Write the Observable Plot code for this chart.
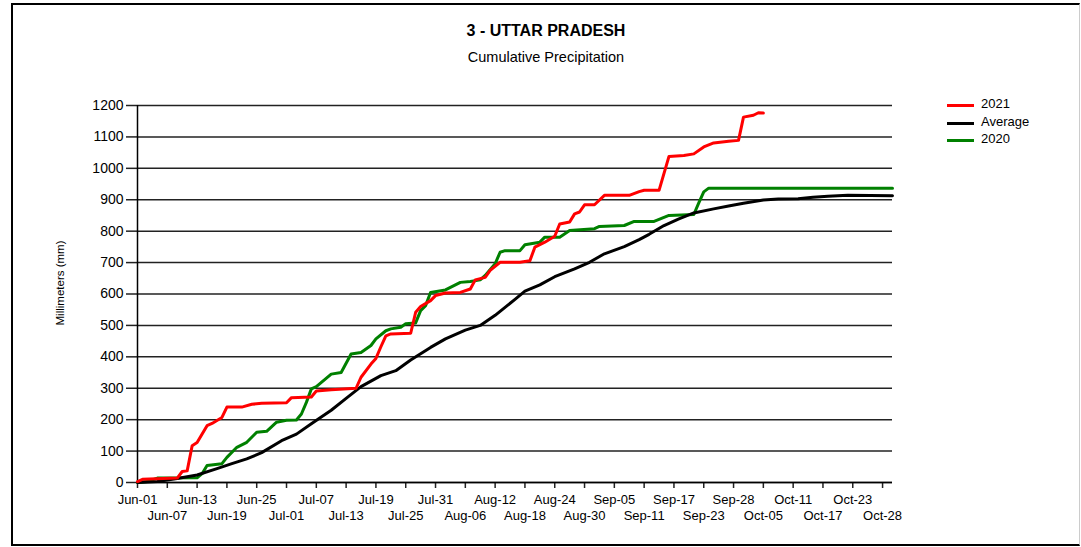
<!DOCTYPE html>
<html>
<head>
<meta charset="utf-8">
<script src="https://cdn.jsdelivr.net/npm/d3@7"></script>
<script src="https://cdn.jsdelivr.net/npm/@observablehq/plot@0.6"></script>
<style>
  body { margin: 0; background: #fff; }
  #wrap { position: relative; width: 1081px; height: 547px; overflow: hidden; font-family: "Liberation Sans", Arial, sans-serif; color: #000; }
  #frame { position: absolute; left: 11px; top: 3px; width: 1069px; height: 543px; box-sizing: border-box;
           border-left: 2px solid #000; border-top: 2px solid #000; border-bottom: 2px solid #000; border-right: 1px solid #ccc; }
  #chart { position: absolute; left: 0; top: 0; }
  .title { position: absolute; left: 12px; width: 1068px; text-align: center; line-height: 1; white-space: nowrap; }
  #t1 { top: 23px; font-size: 16px; font-weight: bold; }
  #t2 { top: 50px; font-size: 14.5px; }
  #ylab { position: absolute; left: 61px; top: 283px; transform: translate(-50%, -50%) rotate(-90deg); font-size: 11.5px; white-space: nowrap; line-height: 1; }
  .leg { position: absolute; left: 947px; font-size: 13px; line-height: 1; white-space: nowrap; }
  .leg span.sw { position: absolute; left: 0; top: 0; width: 27px; height: 3px; }
  .leg span.tx { position: absolute; left: 34px; top: -7px; }
</style>
</head>
<body>
<div id="wrap">
  <div id="frame"></div>
  <div id="chart"></div>
  <div class="title" id="t1">3 - UTTAR PRADESH</div>
  <div class="title" id="t2">Cumulative Precipitation</div>
  <div id="ylab">Millimeters (mm)</div>
  <div id="legend"></div>
</div>
<script>
// Tick positions (day index since Jun-01) and their labels
const tickDays = [0,6,12,18,24,30,36,42,48,54,60,66,72,78,84,90,96,102,108,114,120,126,132,138,144,150];
const tickLabels = ["Jun-01","Jun-07","Jun-13","Jun-19","Jun-25","Jul-01","Jul-07","Jul-13","Jul-19","Jul-25","Jul-31","Aug-06","Aug-12","Aug-18","Aug-24","Aug-30","Sep-05","Sep-11","Sep-17","Sep-23","Sep-28","Oct-05","Oct-11","Oct-17","Oct-23","Oct-28"];
const yTicks = [0,100,200,300,400,500,600,700,800,900,1000,1100,1200];

// 2021 series
const days2021 = [0,1,8,9,10,11,12,14,15,17,18,21,23,25,30,31,35,36,39,44,45,47,48,49,50,51,55,56,57,59,60,62,65,67,68,70,71,73,77,79,80,82,84,85,87,88,89,90,92,94,99,101,102,105,107,110,112,114,116,119,121,122,124,125,126];
const mm2021   = [3,10,14,35,37,117,127,181,188,207,240,240,249,252,254,270,272,291,295,300,335,377,395,432,467,473,475,542,560,579,595,603,605,616,645,653,675,701,701,706,749,765,784,823,829,855,861,884,884,914,914,926,930,930,1038,1041,1046,1068,1081,1086,1089,1163,1169,1177,1176];

// Average series
const daysAvg = [0,4,8,12,16,19,22,25,29,32,35,39,42,45,49,52,55,59,62,66,69,72,76,78,81,84,88,91,94,98,101,103,106,109,112,116,119,122,126,129,133,136,139,143,152];
const mmAvg   = [0,3,13,24,44,60,75,95,133,154,187,230,268,305,340,356,390,430,457,485,500,532,583,609,629,655,680,701,728,751,773,790,818,839,858,871,880,889,899,902,903,908,911,914,913];

// 2020 series
const days2020 = [0,2,4,12,13,14,17,18,20,22,24,26,28,30,32,33,34,35,36,39,41,43,45,47,48,50,51,53,54,56,57,58,59,62,65,67,69,70,72,73,74,77,78,81,82,85,87,92,93,98,100,104,107,112,113,114,115,152];
const mm2020   = [0,3,14,15,28,54,60,80,112,128,160,163,192,198,199,218,255,298,305,345,350,409,414,436,457,483,489,494,505,508,547,563,605,613,637,640,645,659,696,733,738,738,757,765,781,781,802,808,815,818,831,831,850,853,890,925,937,937];

const seriesNames = ["2021", "Average", "2020"];
const seriesColors = ["#ff0000", "#000000", "#008000"];

const toRows = (days, vals, name) => days.map((d, i) => ({day: d, mm: vals[i], series: name}));
const rows2021 = toRows(days2021, mm2021, "2021");
const rowsAvg = toRows(daysAvg, mmAvg, "Average");
const rows2020 = toRows(days2020, mm2020, "2020");

const fmt = d => tickLabels[tickDays.indexOf(d)];
const evenTicks = tickDays.filter((d, i) => i % 2 === 0);
const oddTicks = tickDays.filter((d, i) => i % 2 === 1);

const chart = Plot.plot({
  width: 1081,
  height: 547,
  marginLeft: 137,
  marginRight: 189,
  marginTop: 105,
  marginBottom: 65,
  style: { background: "transparent", fontFamily: "'Liberation Sans', Arial, sans-serif", color: "#000" },
  x: { domain: [0, 152], axis: null },
  y: { domain: [0, 1200], axis: null },
  marks: [
    Plot.gridY(yTicks, { stroke: "#222", strokeOpacity: 1, strokeWidth: 1.5 }),
    Plot.axisY(yTicks, { tickSize: 11, tickPadding: 3, fontSize: 14, tickFormat: d => String(d), label: null, stroke: "#222", strokeWidth: 1.5 }),
    Plot.axisX(evenTicks, { tickSize: 6, tickPadding: 6, fontSize: 13, tickFormat: fmt, label: null, stroke: "#222", strokeWidth: 1.5 }),
    Plot.axisX(oddTicks, { tickSize: 6, tickPadding: 22, fontSize: 13, tickFormat: fmt, label: null, stroke: "#222", strokeWidth: 1.5 }),
    Plot.ruleX([0], { stroke: "#000", strokeWidth: 1.5 }),
    Plot.ruleY([0], { stroke: "#000", strokeWidth: 1.5 }),
    Plot.line(rows2020, { x: "day", y: "mm", stroke: seriesColors[2], strokeWidth: 3, strokeLinejoin: "round" }),
    Plot.line(rowsAvg, { x: "day", y: "mm", stroke: seriesColors[1], strokeWidth: 3, strokeLinejoin: "round" }),
    Plot.line(rows2021, { x: "day", y: "mm", stroke: seriesColors[0], strokeWidth: 3, strokeLinejoin: "round" })
  ]
});
document.getElementById("chart").appendChild(chart);

// Legend
const legTops = [105, 123, 140];
const legend = document.getElementById("legend");
seriesNames.forEach((name, i) => {
  const item = document.createElement("div");
  item.className = "leg";
  item.style.top = (legTops[i] - 1) + "px";
  item.innerHTML = `<span class="sw" style="background:${seriesColors[i]}"></span><span class="tx">${name}</span>`;
  legend.appendChild(item);
});
</script>
</body>
</html>
